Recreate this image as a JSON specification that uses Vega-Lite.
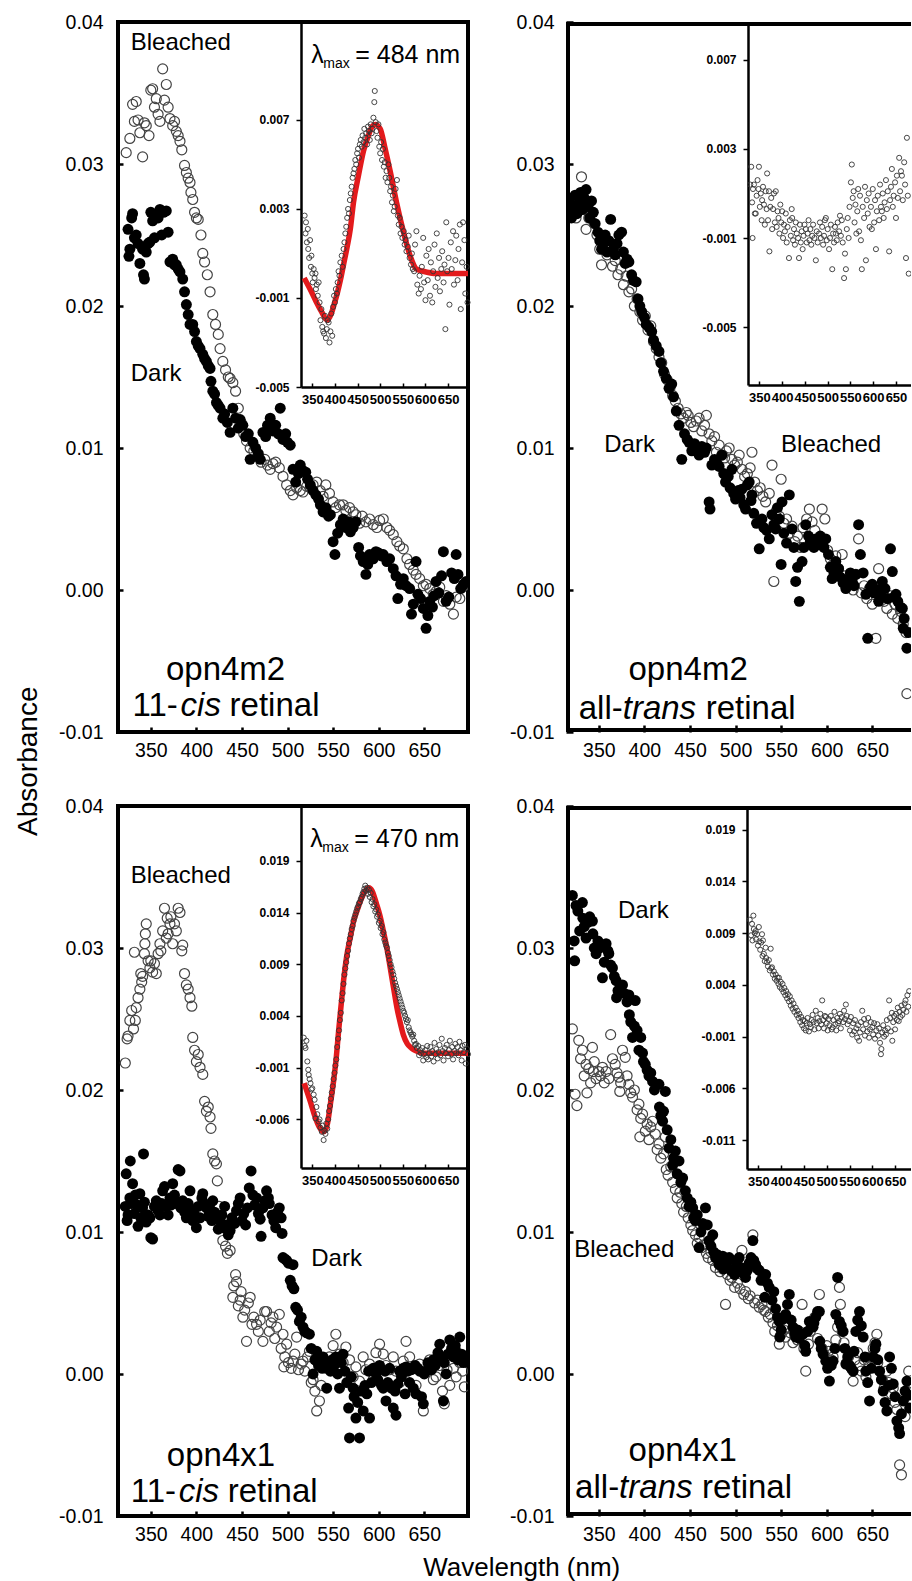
{
"$schema": "https://vega.github.io/schema/vega-lite/v6.json",
"padding": {"left": 14, "top": 10, "right": 0, "bottom": 0},
"config": {
  "font": "Liberation Sans",
  "view": {"stroke": null},
  "axis": {"grid": false, "domain": false, "labelColor": "black", "tickColor": "black", "labelFont": "Liberation Sans"},
  "text": {"font": "Liberation Sans", "color": "black", "baseline": "middle"},
  "title": {"font": "Liberation Sans", "color": "black", "fontWeight": "normal"}
},
"datasets": {
"tlb": [{"wl":323,"v":0.0308},{"wl":327,"v":0.0318},{"wl":330,"v":0.0342},{"wl":332,"v":0.033},{"wl":334,"v":0.0344},{"wl":336,"v":0.0331},{"wl":338,"v":0.0322},{"wl":341,"v":0.0305},{"wl":343,"v":0.0329},{"wl":345,"v":0.0327},{"wl":348,"v":0.032},{"wl":350,"v":0.0352},{"wl":352,"v":0.0353},{"wl":354,"v":0.034},{"wl":356,"v":0.0346},{"wl":358,"v":0.0335},{"wl":360,"v":0.033},{"wl":363,"v":0.0367},{"wl":365,"v":0.0345},{"wl":367,"v":0.0356},{"wl":369,"v":0.034},{"wl":371,"v":0.0332},{"wl":374,"v":0.0327},{"wl":376,"v":0.033},{"wl":378,"v":0.0323},{"wl":380,"v":0.032},{"wl":382,"v":0.0316},{"wl":384,"v":0.031},{"wl":387,"v":0.0299},{"wl":389,"v":0.0294},{"wl":391,"v":0.029},{"wl":393,"v":0.0287},{"wl":394,"v":0.028},{"wl":396,"v":0.0275},{"wl":398,"v":0.0266},{"wl":400,"v":0.0262},{"wl":402,"v":0.0261},{"wl":405,"v":0.025},{"wl":407,"v":0.0237},{"wl":409,"v":0.0231},{"wl":412,"v":0.0222},{"wl":415,"v":0.021},{"wl":418,"v":0.0194},{"wl":421,"v":0.0187},{"wl":424,"v":0.018},{"wl":426,"v":0.017},{"wl":429,"v":0.0161},{"wl":432,"v":0.0155},{"wl":435,"v":0.015},{"wl":437,"v":0.0149},{"wl":440,"v":0.0146},{"wl":443,"v":0.014},{"wl":446,"v":0.0128},{"wl":449,"v":0.0118},{"wl":452,"v":0.011},{"wl":455,"v":0.0105},{"wl":459,"v":0.01},{"wl":463,"v":0.0098},{"wl":467,"v":0.0094},{"wl":471,"v":0.009},{"wl":475,"v":0.0092},{"wl":478,"v":0.0088},{"wl":481,"v":0.0085},{"wl":484,"v":0.0089},{"wl":487,"v":0.009},{"wl":491,"v":0.0086},{"wl":495,"v":0.008},{"wl":499,"v":0.0074},{"wl":503,"v":0.007},{"wl":506,"v":0.0067},{"wl":510,"v":0.0072},{"wl":514,"v":0.007},{"wl":517,"v":0.0069},{"wl":521,"v":0.0073},{"wl":525,"v":0.0072},{"wl":528,"v":0.0074},{"wl":532,"v":0.0076},{"wl":536,"v":0.007},{"wl":539,"v":0.0066},{"wl":542,"v":0.0074},{"wl":546,"v":0.0068},{"wl":550,"v":0.0062},{"wl":553,"v":0.0058},{"wl":557,"v":0.006},{"wl":561,"v":0.006},{"wl":564,"v":0.0056},{"wl":568,"v":0.0058},{"wl":572,"v":0.0055},{"wl":575,"v":0.0053},{"wl":579,"v":0.0047},{"wl":582,"v":0.0052},{"wl":586,"v":0.0048},{"wl":590,"v":0.005},{"wl":594,"v":0.0046},{"wl":598,"v":0.0044},{"wl":601,"v":0.0049},{"wl":605,"v":0.005},{"wl":609,"v":0.0044},{"wl":612,"v":0.0042},{"wl":616,"v":0.0039},{"wl":620,"v":0.0034},{"wl":623,"v":0.0031},{"wl":627,"v":0.0029},{"wl":631,"v":0.0022},{"wl":634,"v":0.0018},{"wl":638,"v":0.0014},{"wl":641,"v":0.0011},{"wl":645,"v":0.0008},{"wl":649,"v":0.0003},{"wl":652,"v":0.0004},{"wl":656,"v":0.0001},{"wl":660,"v":-0.0003},{"wl":663,"v":-0.0001},{"wl":667,"v":0.0002},{"wl":671,"v":-0.0008},{"wl":674,"v":-0.0004},{"wl":678,"v":-0.001},{"wl":682,"v":-0.0017},{"wl":685,"v":-0.0005},{"wl":689,"v":-0.0006},{"wl":692,"v":0.0002},{"wl":696,"v":0.0004}],
"tld": [{"wl":325,"v":0.0254},{"wl":326,"v":0.0235},{"wl":327,"v":0.024},{"wl":329,"v":0.0262},{"wl":330,"v":0.0265},{"wl":332,"v":0.0248},{"wl":334,"v":0.025},{"wl":336,"v":0.0244},{"wl":338,"v":0.023},{"wl":341,"v":0.024},{"wl":342,"v":0.0222},{"wl":343,"v":0.0219},{"wl":345,"v":0.0238},{"wl":347,"v":0.0244},{"wl":349,"v":0.0245},{"wl":350,"v":0.0266},{"wl":352,"v":0.026},{"wl":354,"v":0.0248},{"wl":356,"v":0.0264},{"wl":358,"v":0.0262},{"wl":360,"v":0.0268},{"wl":362,"v":0.025},{"wl":364,"v":0.0266},{"wl":367,"v":0.0267},{"wl":369,"v":0.0252},{"wl":371,"v":0.0231},{"wl":374,"v":0.0233},{"wl":376,"v":0.0229},{"wl":378,"v":0.0229},{"wl":380,"v":0.0226},{"wl":382,"v":0.0224},{"wl":385,"v":0.0219},{"wl":387,"v":0.021},{"wl":389,"v":0.0201},{"wl":391,"v":0.0194},{"wl":393,"v":0.0187},{"wl":396,"v":0.0187},{"wl":398,"v":0.0182},{"wl":400,"v":0.0175},{"wl":402,"v":0.0172},{"wl":404,"v":0.017},{"wl":407,"v":0.0166},{"wl":409,"v":0.0163},{"wl":411,"v":0.0161},{"wl":413,"v":0.0158},{"wl":415,"v":0.0156},{"wl":416,"v":0.0147},{"wl":418,"v":0.014},{"wl":420,"v":0.0138},{"wl":422,"v":0.0132},{"wl":424,"v":0.013},{"wl":426,"v":0.0128},{"wl":429,"v":0.0121},{"wl":431,"v":0.0124},{"wl":434,"v":0.0118},{"wl":437,"v":0.0111},{"wl":440,"v":0.0128},{"wl":443,"v":0.0121},{"wl":446,"v":0.0114},{"wl":448,"v":0.012},{"wl":451,"v":0.0116},{"wl":454,"v":0.0108},{"wl":457,"v":0.011},{"wl":459,"v":0.0092},{"wl":462,"v":0.0104},{"wl":465,"v":0.01},{"wl":468,"v":0.0096},{"wl":470,"v":0.0092},{"wl":473,"v":0.0111},{"wl":476,"v":0.0108},{"wl":478,"v":0.0116},{"wl":481,"v":0.0121},{"wl":484,"v":0.0112},{"wl":487,"v":0.0116},{"wl":490,"v":0.011},{"wl":492,"v":0.0128},{"wl":495,"v":0.0106},{"wl":498,"v":0.011},{"wl":500,"v":0.0104},{"wl":503,"v":0.0102},{"wl":506,"v":0.0085},{"wl":509,"v":0.0076},{"wl":512,"v":0.0082},{"wl":514,"v":0.0088},{"wl":517,"v":0.0084},{"wl":520,"v":0.0083},{"wl":522,"v":0.0078},{"wl":525,"v":0.0074},{"wl":528,"v":0.007},{"wl":531,"v":0.0067},{"wl":534,"v":0.0064},{"wl":536,"v":0.006},{"wl":539,"v":0.0055},{"wl":542,"v":0.0058},{"wl":545,"v":0.0052},{"wl":547,"v":0.0053},{"wl":550,"v":0.0034},{"wl":552,"v":0.0025},{"wl":555,"v":0.004},{"wl":558,"v":0.0046},{"wl":561,"v":0.005},{"wl":564,"v":0.0044},{"wl":567,"v":0.0048},{"wl":569,"v":0.0041},{"wl":572,"v":0.0044},{"wl":575,"v":0.0048},{"wl":578,"v":0.003},{"wl":580,"v":0.0024},{"wl":583,"v":0.002},{"wl":586,"v":0.0011},{"wl":588,"v":0.0018},{"wl":590,"v":0.0025},{"wl":594,"v":0.0022},{"wl":597,"v":0.0027},{"wl":600,"v":0.0026},{"wl":603,"v":0.0024},{"wl":605,"v":0.0025},{"wl":609,"v":0.002},{"wl":612,"v":0.0022},{"wl":616,"v":0.0015},{"wl":619,"v":0.001},{"wl":621,"v":-0.0006},{"wl":624,"v":0.0004},{"wl":627,"v":0.0008},{"wl":630,"v":0.0003},{"wl":634,"v":0.0001},{"wl":636,"v":-0.0017},{"wl":638,"v":-0.001},{"wl":641,"v":0.002},{"wl":643,"v":-0.0003},{"wl":646,"v":-0.0006},{"wl":649,"v":-0.0013},{"wl":652,"v":-0.0027},{"wl":654,"v":-0.0018},{"wl":656,"v":-0.0008},{"wl":659,"v":-0.0012},{"wl":661,"v":-0.0004},{"wl":663,"v":0.0006},{"wl":666,"v":-0.0002},{"wl":669,"v":0.001},{"wl":671,"v":0.0027},{"wl":674,"v":-0.0008},{"wl":677,"v":-0.0005},{"wl":680,"v":0.0012},{"wl":683,"v":0.0008},{"wl":685,"v":0.0025},{"wl":687,"v":0.0011},{"wl":690,"v":0.0001},{"wl":693,"v":0.0004},{"wl":696,"v":0.0006}],
"tlf": [{"wl":332,"v":-0.0001},{"wl":345,"v":-0.0006},{"wl":357,"v":-0.0011},{"wl":370,"v":-0.0016},{"wl":383,"v":-0.002},{"wl":392,"v":-0.0017},{"wl":398,"v":-0.0013},{"wl":405,"v":-0.0008},{"wl":412,"v":-0.0002},{"wl":419,"v":0.0005},{"wl":427,"v":0.0013},{"wl":434,"v":0.0021},{"wl":441,"v":0.0033},{"wl":452,"v":0.0045},{"wl":463,"v":0.0056},{"wl":474,"v":0.0063},{"wl":482,"v":0.0067},{"wl":489,"v":0.0068},{"wl":500,"v":0.0066},{"wl":511,"v":0.0057},{"wl":522,"v":0.0047},{"wl":536,"v":0.0033},{"wl":551,"v":0.002},{"wl":566,"v":0.0009},{"wl":580,"v":0.0003},{"wl":595,"v":0.0002},{"wl":624,"v":0.0001},{"wl":694,"v":0.0001}],
"tli": [{"wl":333,"v":0.0027},{"wl":335,"v":0.0019},{"wl":336,"v":0.0024},{"wl":338,"v":0.0015},{"wl":340,"v":0.0021},{"wl":341,"v":0.0012},{"wl":343,"v":0.0008},{"wl":345,"v":0.0016},{"wl":347,"v":0.0004},{"wl":348,"v":0.0009},{"wl":350,"v":0.0001},{"wl":351,"v":-0.0003},{"wl":353,"v":0.0003},{"wl":355,"v":-0.0001},{"wl":357,"v":0.0001},{"wl":358,"v":-0.0006},{"wl":360,"v":-0.0004},{"wl":362,"v":-0.0009},{"wl":364,"v":-0.0003},{"wl":366,"v":-0.0012},{"wl":368,"v":-0.002},{"wl":370,"v":-0.0015},{"wl":372,"v":-0.0023},{"wl":374,"v":-0.0025},{"wl":376,"v":-0.0026},{"wl":378,"v":-0.0018},{"wl":380,"v":-0.0028},{"wl":382,"v":-0.0024},{"wl":384,"v":-0.002},{"wl":386,"v":-0.0021},{"wl":388,"v":-0.003},{"wl":390,"v":-0.0025},{"wl":392,"v":-0.0017},{"wl":394,"v":-0.0027},{"wl":396,"v":-0.0014},{"wl":398,"v":-0.0009},{"wl":400,"v":-0.0012},{"wl":402,"v":-0.0006},{"wl":404,"v":-0.0008},{"wl":406,"v":-0.0003},{"wl":408,"v":0.0002},{"wl":410,"v":0.0},{"wl":412,"v":0.0006},{"wl":415,"v":0.0009},{"wl":417,"v":0.0004},{"wl":419,"v":0.0012},{"wl":421,"v":0.0015},{"wl":423,"v":0.0019},{"wl":425,"v":0.0022},{"wl":427,"v":0.0026},{"wl":429,"v":0.003},{"wl":431,"v":0.0028},{"wl":433,"v":0.0034},{"wl":435,"v":0.0037},{"wl":437,"v":0.004},{"wl":439,"v":0.0044},{"wl":441,"v":0.0046},{"wl":443,"v":0.0048},{"wl":445,"v":0.0052},{"wl":447,"v":0.005},{"wl":449,"v":0.0055},{"wl":451,"v":0.0057},{"wl":453,"v":0.0053},{"wl":455,"v":0.0059},{"wl":457,"v":0.0061},{"wl":459,"v":0.0058},{"wl":461,"v":0.0063},{"wl":463,"v":0.006},{"wl":465,"v":0.0066},{"wl":467,"v":0.0062},{"wl":469,"v":0.0064},{"wl":471,"v":0.0059},{"wl":473,"v":0.0067},{"wl":475,"v":0.0065},{"wl":477,"v":0.0061},{"wl":479,"v":0.0068},{"wl":481,"v":0.0064},{"wl":483,"v":0.0066},{"wl":485,"v":0.0071},{"wl":487,"v":0.0078},{"wl":488,"v":0.0083},{"wl":490,"v":0.0069},{"wl":492,"v":0.0065},{"wl":494,"v":0.0062},{"wl":496,"v":0.0068},{"wl":498,"v":0.0058},{"wl":500,"v":0.0055},{"wl":502,"v":0.006},{"wl":504,"v":0.0052},{"wl":506,"v":0.0057},{"wl":508,"v":0.0049},{"wl":510,"v":0.0051},{"wl":512,"v":0.0044},{"wl":514,"v":0.0047},{"wl":516,"v":0.0042},{"wl":518,"v":0.005},{"wl":520,"v":0.0044},{"wl":522,"v":0.0038},{"wl":524,"v":0.004},{"wl":526,"v":0.0033},{"wl":528,"v":0.0036},{"wl":530,"v":0.0029},{"wl":532,"v":0.0031},{"wl":534,"v":0.0039},{"wl":537,"v":0.0043},{"wl":539,"v":0.0027},{"wl":541,"v":0.0023},{"wl":543,"v":0.0026},{"wl":545,"v":0.0019},{"wl":547,"v":0.0022},{"wl":549,"v":0.0017},{"wl":552,"v":0.002},{"wl":554,"v":0.0014},{"wl":556,"v":0.0016},{"wl":558,"v":0.0011},{"wl":561,"v":0.0013},{"wl":563,"v":0.0018},{"wl":565,"v":0.0008},{"wl":568,"v":0.0005},{"wl":570,"v":0.001},{"wl":572,"v":0.0003},{"wl":575,"v":0.0002},{"wl":577,"v":0.0014},{"wl":580,"v":0.002},{"wl":582,"v":-0.0004},{"wl":585,"v":-0.0008},{"wl":587,"v":0.0},{"wl":590,"v":-0.0006},{"wl":592,"v":0.0004},{"wl":595,"v":0.0017},{"wl":597,"v":-0.0003},{"wl":600,"v":-0.0011},{"wl":602,"v":0.0009},{"wl":605,"v":-0.0002},{"wl":607,"v":0.0012},{"wl":610,"v":-0.0009},{"wl":612,"v":0.0006},{"wl":615,"v":-0.0012},{"wl":617,"v":0.0002},{"wl":620,"v":0.0014},{"wl":622,"v":-0.0005},{"wl":625,"v":0.0019},{"wl":627,"v":-0.0001},{"wl":630,"v":0.0008},{"wl":632,"v":-0.0007},{"wl":635,"v":0.0003},{"wl":637,"v":0.0011},{"wl":640,"v":-0.0003},{"wl":642,"v":0.0005},{"wl":644,"v":-0.0024},{"wl":646,"v":0.0024},{"wl":648,"v":0.0002},{"wl":651,"v":0.0008},{"wl":653,"v":-0.0013},{"wl":656,"v":0.0015},{"wl":658,"v":0.0003},{"wl":661,"v":0.002},{"wl":663,"v":-0.0004},{"wl":666,"v":0.0007},{"wl":668,"v":0.0018},{"wl":671,"v":-0.0002},{"wl":673,"v":0.0012},{"wl":676,"v":0.0023},{"wl":678,"v":-0.0015},{"wl":681,"v":0.0006},{"wl":683,"v":0.0024},{"wl":686,"v":0.0016},{"wl":688,"v":-0.0008},{"wl":691,"v":0.0004},{"wl":693,"v":-0.0012}],
"trb": [{"wl":316,"v":0.0272},{"wl":319,"v":0.0265},{"wl":322,"v":0.027},{"wl":325,"v":0.0262},{"wl":328,"v":0.0275},{"wl":331,"v":0.0291},{"wl":334,"v":0.0268},{"wl":336,"v":0.0254},{"wl":339,"v":0.0262},{"wl":342,"v":0.0266},{"wl":345,"v":0.0258},{"wl":348,"v":0.025},{"wl":351,"v":0.024},{"wl":353,"v":0.0229},{"wl":356,"v":0.0245},{"wl":359,"v":0.0236},{"wl":362,"v":0.024},{"wl":365,"v":0.0228},{"wl":368,"v":0.0232},{"wl":371,"v":0.0222},{"wl":374,"v":0.0226},{"wl":377,"v":0.0215},{"wl":380,"v":0.0221},{"wl":383,"v":0.021},{"wl":386,"v":0.0212},{"wl":389,"v":0.02},{"wl":392,"v":0.0205},{"wl":395,"v":0.0196},{"wl":398,"v":0.019},{"wl":401,"v":0.0193},{"wl":404,"v":0.0183},{"wl":407,"v":0.0186},{"wl":410,"v":0.0175},{"wl":413,"v":0.017},{"wl":416,"v":0.0164},{"wl":419,"v":0.016},{"wl":422,"v":0.0152},{"wl":425,"v":0.0148},{"wl":428,"v":0.0142},{"wl":431,"v":0.0137},{"wl":434,"v":0.0133},{"wl":437,"v":0.0128},{"wl":440,"v":0.0124},{"wl":443,"v":0.0121},{"wl":446,"v":0.0125},{"wl":448,"v":0.0123},{"wl":451,"v":0.0118},{"wl":454,"v":0.0115},{"wl":457,"v":0.0119},{"wl":460,"v":0.0121},{"wl":463,"v":0.0112},{"wl":466,"v":0.0116},{"wl":468,"v":0.0123},{"wl":471,"v":0.011},{"wl":474,"v":0.0105},{"wl":477,"v":0.0108},{"wl":479,"v":0.0097},{"wl":482,"v":0.0102},{"wl":485,"v":0.0095},{"wl":488,"v":0.0093},{"wl":490,"v":0.0098},{"wl":493,"v":0.01},{"wl":496,"v":0.0092},{"wl":499,"v":0.0088},{"wl":502,"v":0.009},{"wl":504,"v":0.0095},{"wl":507,"v":0.0085},{"wl":510,"v":0.008},{"wl":513,"v":0.0082},{"wl":516,"v":0.0086},{"wl":518,"v":0.0097},{"wl":521,"v":0.0076},{"wl":524,"v":0.007},{"wl":527,"v":0.0072},{"wl":530,"v":0.0066},{"wl":533,"v":0.0062},{"wl":537,"v":0.0068},{"wl":540,"v":0.0088},{"wl":542,"v":0.0006},{"wl":545,"v":0.0056},{"wl":548,"v":0.0052},{"wl":550,"v":0.0078},{"wl":553,"v":0.0047},{"wl":556,"v":0.005},{"wl":559,"v":0.004},{"wl":562,"v":0.0045},{"wl":565,"v":0.0034},{"wl":568,"v":0.0038},{"wl":571,"v":0.003},{"wl":574,"v":0.0044},{"wl":578,"v":0.005},{"wl":581,"v":0.0057},{"wl":584,"v":0.0048},{"wl":587,"v":0.0042},{"wl":590,"v":0.0033},{"wl":593,"v":0.0036},{"wl":595,"v":0.0057},{"wl":598,"v":0.005},{"wl":601,"v":0.0028},{"wl":604,"v":0.0022},{"wl":607,"v":0.0018},{"wl":610,"v":0.0024},{"wl":613,"v":0.0015},{"wl":617,"v":0.0025},{"wl":620,"v":0.001},{"wl":623,"v":0.0004},{"wl":626,"v":0.0008},{"wl":629,"v":0.0},{"wl":632,"v":0.0011},{"wl":635,"v":0.0036},{"wl":638,"v":-0.0002},{"wl":641,"v":0.0003},{"wl":644,"v":-0.0006},{"wl":647,"v":0.0001},{"wl":650,"v":-0.001},{"wl":654,"v":-0.0034},{"wl":657,"v":0.0015},{"wl":660,"v":-0.0005},{"wl":663,"v":-0.0008},{"wl":666,"v":-0.0013},{"wl":669,"v":-0.0004},{"wl":672,"v":-0.0017},{"wl":675,"v":-0.001},{"wl":678,"v":-0.002},{"wl":681,"v":-0.0015},{"wl":684,"v":-0.0024},{"wl":687,"v":-0.003},{"wl":688,"v":-0.0073}],
"trd": [{"wl":316,"v":0.0268},{"wl":318,"v":0.0275},{"wl":320,"v":0.0262},{"wl":322,"v":0.027},{"wl":324,"v":0.0278},{"wl":326,"v":0.0265},{"wl":328,"v":0.0272},{"wl":330,"v":0.028},{"wl":332,"v":0.0268},{"wl":334,"v":0.0276},{"wl":336,"v":0.0282},{"wl":338,"v":0.027},{"wl":340,"v":0.0262},{"wl":342,"v":0.0274},{"wl":344,"v":0.0266},{"wl":346,"v":0.0258},{"wl":349,"v":0.0252},{"wl":351,"v":0.0246},{"wl":353,"v":0.024},{"wl":355,"v":0.0244},{"wl":357,"v":0.025},{"wl":359,"v":0.0238},{"wl":361,"v":0.0246},{"wl":363,"v":0.0261},{"wl":366,"v":0.024},{"wl":368,"v":0.0236},{"wl":370,"v":0.0244},{"wl":372,"v":0.025},{"wl":375,"v":0.0252},{"wl":377,"v":0.0238},{"wl":379,"v":0.023},{"wl":381,"v":0.0233},{"wl":383,"v":0.0231},{"wl":386,"v":0.0222},{"wl":388,"v":0.0218},{"wl":391,"v":0.0217},{"wl":393,"v":0.0205},{"wl":395,"v":0.02},{"wl":397,"v":0.0196},{"wl":400,"v":0.0192},{"wl":402,"v":0.0187},{"wl":405,"v":0.0185},{"wl":408,"v":0.0182},{"wl":410,"v":0.0176},{"wl":413,"v":0.0172},{"wl":416,"v":0.0168},{"wl":418,"v":0.016},{"wl":421,"v":0.0154},{"wl":424,"v":0.0149},{"wl":427,"v":0.0142},{"wl":430,"v":0.0145},{"wl":432,"v":0.0136},{"wl":435,"v":0.0126},{"wl":438,"v":0.0116},{"wl":441,"v":0.0092},{"wl":444,"v":0.011},{"wl":447,"v":0.0106},{"wl":449,"v":0.0104},{"wl":452,"v":0.0098},{"wl":455,"v":0.0103},{"wl":457,"v":0.01},{"wl":460,"v":0.0095},{"wl":463,"v":0.0101},{"wl":466,"v":0.0097},{"wl":468,"v":0.01},{"wl":471,"v":0.0062},{"wl":472,"v":0.0057},{"wl":474,"v":0.0088},{"wl":477,"v":0.0092},{"wl":479,"v":0.009},{"wl":482,"v":0.0087},{"wl":485,"v":0.0095},{"wl":487,"v":0.0082},{"wl":489,"v":0.0076},{"wl":492,"v":0.008},{"wl":494,"v":0.0072},{"wl":496,"v":0.0085},{"wl":498,"v":0.0068},{"wl":500,"v":0.0064},{"wl":503,"v":0.007},{"wl":505,"v":0.0065},{"wl":507,"v":0.0071},{"wl":509,"v":0.006},{"wl":511,"v":0.0057},{"wl":513,"v":0.0074},{"wl":515,"v":0.0076},{"wl":517,"v":0.0063},{"wl":518,"v":0.0067},{"wl":520,"v":0.0054},{"wl":523,"v":0.0047},{"wl":526,"v":0.0029},{"wl":529,"v":0.005},{"wl":531,"v":0.0044},{"wl":534,"v":0.0042},{"wl":537,"v":0.0036},{"wl":540,"v":0.0053},{"wl":542,"v":0.0046},{"wl":544,"v":0.0043},{"wl":546,"v":0.0058},{"wl":548,"v":0.005},{"wl":550,"v":0.0018},{"wl":551,"v":0.0062},{"wl":553,"v":0.004},{"wl":556,"v":0.0033},{"wl":559,"v":0.0067},{"wl":562,"v":0.0043},{"wl":564,"v":0.003},{"wl":566,"v":0.0006},{"wl":568,"v":0.0016},{"wl":570,"v":-0.0008},{"wl":573,"v":0.002},{"wl":575,"v":0.003},{"wl":577,"v":0.0046},{"wl":580,"v":0.0038},{"wl":582,"v":0.0034},{"wl":584,"v":0.0034},{"wl":586,"v":0.003},{"wl":588,"v":0.0036},{"wl":591,"v":0.0032},{"wl":593,"v":0.0038},{"wl":595,"v":0.0033},{"wl":597,"v":0.003},{"wl":599,"v":0.0036},{"wl":602,"v":0.0025},{"wl":604,"v":0.0016},{"wl":606,"v":0.0008},{"wl":608,"v":0.0012},{"wl":610,"v":0.002},{"wl":613,"v":0.0015},{"wl":615,"v":0.0009},{"wl":618,"v":0.0005},{"wl":621,"v":0.0001},{"wl":624,"v":0.0008},{"wl":626,"v":0.0012},{"wl":628,"v":0.0006},{"wl":630,"v":0.0003},{"wl":632,"v":0.0011},{"wl":635,"v":0.0046},{"wl":637,"v":0.0025},{"wl":640,"v":0.0012},{"wl":643,"v":-0.0003},{"wl":645,"v":-0.0034},{"wl":648,"v":0.0002},{"wl":650,"v":0.0004},{"wl":652,"v":-0.0002},{"wl":655,"v":0.0},{"wl":657,"v":-0.0008},{"wl":659,"v":-0.0004},{"wl":661,"v":0.0006},{"wl":664,"v":0.0001},{"wl":667,"v":-0.0006},{"wl":670,"v":0.0029},{"wl":672,"v":0.0013},{"wl":674,"v":-0.0005},{"wl":676,"v":-0.0003},{"wl":678,"v":-0.0008},{"wl":681,"v":-0.0012},{"wl":683,"v":-0.0013},{"wl":685,"v":-0.002},{"wl":684,"v":-0.0027},{"wl":688,"v":-0.0041},{"wl":690,"v":-0.003}],
"tri": [{"wl":330,"v":0.0014},{"wl":332,"v":0.0022},{"wl":334,"v":0.0006},{"wl":335,"v":-0.001},{"wl":336,"v":0.0012},{"wl":338,"v":0.0014},{"wl":340,"v":0.0001},{"wl":342,"v":0.0001},{"wl":344,"v":0.0009},{"wl":346,"v":0.0016},{"wl":348,"v":0.0012},{"wl":349,"v":0.0022},{"wl":351,"v":0.0004},{"wl":353,"v":0.001},{"wl":355,"v":-0.0002},{"wl":356,"v":0.0007},{"wl":358,"v":0.0013},{"wl":360,"v":0.0005},{"wl":362,"v":-0.0004},{"wl":364,"v":0.0011},{"wl":366,"v":0.0003},{"wl":367,"v":0.0019},{"wl":369,"v":-0.0002},{"wl":371,"v":0.0011},{"wl":372,"v":-0.0016},{"wl":374,"v":0.0004},{"wl":376,"v":0.0008},{"wl":378,"v":-0.0006},{"wl":380,"v":0.0003},{"wl":382,"v":0.001},{"wl":384,"v":-0.0003},{"wl":386,"v":0.0011},{"wl":388,"v":-0.0005},{"wl":390,"v":0.0002},{"wl":392,"v":-0.0001},{"wl":394,"v":-0.0008},{"wl":396,"v":0.0005},{"wl":398,"v":-0.0003},{"wl":400,"v":0.0002},{"wl":402,"v":-0.001},{"wl":404,"v":-0.0004},{"wl":406,"v":-0.0007},{"wl":408,"v":0.0001},{"wl":410,"v":-0.0012},{"wl":412,"v":-0.0005},{"wl":415,"v":-0.0019},{"wl":417,"v":-0.0002},{"wl":419,"v":-0.0009},{"wl":421,"v":0.0003},{"wl":422,"v":-0.0001},{"wl":424,"v":-0.0011},{"wl":426,"v":-0.0006},{"wl":428,"v":-0.0013},{"wl":430,"v":-0.0003},{"wl":432,"v":-0.0008},{"wl":435,"v":-0.001},{"wl":437,"v":-0.0019},{"wl":439,"v":-0.0004},{"wl":441,"v":-0.0012},{"wl":443,"v":-0.0007},{"wl":445,"v":-0.0015},{"wl":447,"v":-0.0009},{"wl":449,"v":-0.0004},{"wl":452,"v":-0.0006},{"wl":454,"v":-0.0012},{"wl":456,"v":-0.0008},{"wl":458,"v":-0.0002},{"wl":460,"v":-0.0011},{"wl":462,"v":-0.0006},{"wl":464,"v":-0.0013},{"wl":466,"v":-0.0009},{"wl":468,"v":-0.0004},{"wl":471,"v":-0.001},{"wl":474,"v":-0.002},{"wl":476,"v":-0.0007},{"wl":478,"v":-0.0012},{"wl":481,"v":-0.0008},{"wl":483,"v":-0.0003},{"wl":485,"v":-0.001},{"wl":488,"v":-0.0005},{"wl":490,"v":-0.0013},{"wl":492,"v":-0.0009},{"wl":494,"v":-0.0002},{"wl":496,"v":-0.0001},{"wl":498,"v":-0.0011},{"wl":500,"v":-0.0006},{"wl":503,"v":-0.0015},{"wl":505,"v":-0.001},{"wl":507,"v":-0.0004},{"wl":510,"v":-0.0024},{"wl":512,"v":-0.0008},{"wl":514,"v":-0.0012},{"wl":516,"v":-0.0005},{"wl":518,"v":-0.0008},{"wl":520,"v":-0.0011},{"wl":522,"v":-0.0003},{"wl":525,"v":-0.0007},{"wl":527,"v":0.0},{"wl":529,"v":-0.0009},{"wl":531,"v":-0.0002},{"wl":533,"v":-0.0012},{"wl":536,"v":-0.0028},{"wl":538,"v":-0.0017},{"wl":540,"v":-0.0024},{"wl":542,"v":-0.0006},{"wl":544,"v":-0.0001},{"wl":546,"v":-0.001},{"wl":548,"v":0.0004},{"wl":551,"v":0.0015},{"wl":553,"v":0.0023},{"wl":555,"v":0.0008},{"wl":557,"v":0.0011},{"wl":559,"v":-0.0003},{"wl":561,"v":0.0005},{"wl":563,"v":-0.0008},{"wl":565,"v":0.0002},{"wl":567,"v":0.0012},{"wl":569,"v":-0.0007},{"wl":571,"v":0.0009},{"wl":573,"v":-0.0011},{"wl":575,"v":-0.0024},{"wl":577,"v":0.0004},{"wl":580,"v":-0.0001},{"wl":582,"v":0.0013},{"wl":584,"v":-0.002},{"wl":586,"v":0.0007},{"wl":588,"v":0.0001},{"wl":590,"v":0.001},{"wl":592,"v":-0.0005},{"wl":595,"v":0.0004},{"wl":597,"v":-0.0006},{"wl":599,"v":0.0012},{"wl":602,"v":-0.0003},{"wl":604,"v":0.0007},{"wl":606,"v":-0.0015},{"wl":608,"v":0.0002},{"wl":610,"v":0.0009},{"wl":613,"v":-0.0002},{"wl":615,"v":0.0014},{"wl":617,"v":0.0004},{"wl":619,"v":0.0002},{"wl":621,"v":0.001},{"wl":623,"v":-0.0001},{"wl":625,"v":0.0006},{"wl":628,"v":0.0016},{"wl":630,"v":0.0003},{"wl":632,"v":0.0011},{"wl":635,"v":-0.0016},{"wl":637,"v":0.0007},{"wl":639,"v":0.0013},{"wl":641,"v":0.0021},{"wl":643,"v":0.0004},{"wl":645,"v":0.0009},{"wl":648,"v":0.0015},{"wl":650,"v":-0.0001},{"wl":652,"v":0.0018},{"wl":654,"v":0.0008},{"wl":657,"v":0.0026},{"wl":659,"v":0.0011},{"wl":661,"v":0.002},{"wl":663,"v":0.0018},{"wl":665,"v":0.0007},{"wl":668,"v":0.0024},{"wl":670,"v":0.0014},{"wl":672,"v":-0.0019},{"wl":674,"v":0.0035},{"wl":676,"v":0.0009},{"wl":678,"v":-0.0026}],
"blb": [{"wl":322,"v":0.0219},{"wl":324,"v":0.0236},{"wl":325,"v":0.0238},{"wl":327,"v":0.0249},{"wl":329,"v":0.0256},{"wl":331,"v":0.0243},{"wl":332,"v":0.0297},{"wl":333,"v":0.0249},{"wl":334,"v":0.0258},{"wl":336,"v":0.0265},{"wl":338,"v":0.0271},{"wl":339,"v":0.0282},{"wl":340,"v":0.0276},{"wl":341,"v":0.028},{"wl":343,"v":0.0296},{"wl":343.5,"v":0.0303},{"wl":344,"v":0.031},{"wl":345,"v":0.0317},{"wl":347,"v":0.0291},{"wl":349,"v":0.0286},{"wl":350,"v":0.0291},{"wl":352,"v":0.0283},{"wl":354,"v":0.0289},{"wl":356,"v":0.0282},{"wl":358,"v":0.0296},{"wl":360,"v":0.0303},{"wl":361,"v":0.0298},{"wl":363,"v":0.0312},{"wl":365,"v":0.0328},{"wl":367,"v":0.0307},{"wl":368,"v":0.0321},{"wl":369,"v":0.031},{"wl":371,"v":0.0317},{"wl":372,"v":0.0322},{"wl":374,"v":0.0303},{"wl":376,"v":0.0317},{"wl":378,"v":0.0312},{"wl":380,"v":0.0328},{"wl":382,"v":0.0325},{"wl":384,"v":0.0298},{"wl":385,"v":0.0302},{"wl":387,"v":0.0282},{"wl":389,"v":0.0274},{"wl":391,"v":0.0271},{"wl":393,"v":0.0265},{"wl":395,"v":0.0259},{"wl":396,"v":0.0237},{"wl":398,"v":0.0228},{"wl":400,"v":0.022},{"wl":402,"v":0.0225},{"wl":404,"v":0.0216},{"wl":407,"v":0.0211},{"wl":409,"v":0.0192},{"wl":411,"v":0.0185},{"wl":413,"v":0.0188},{"wl":415,"v":0.0181},{"wl":416,"v":0.0173},{"wl":418,"v":0.0155},{"wl":420,"v":0.015},{"wl":422,"v":0.0148},{"wl":423,"v":0.0136},{"wl":425,"v":0.0118},{"wl":427,"v":0.0104},{"wl":429,"v":0.0094},{"wl":432,"v":0.009},{"wl":434,"v":0.0085},{"wl":437,"v":0.0087},{"wl":440,"v":0.0054},{"wl":441,"v":0.0062},{"wl":443,"v":0.007},{"wl":444,"v":0.0065},{"wl":446,"v":0.0048},{"wl":448,"v":0.0052},{"wl":449,"v":0.0058},{"wl":451,"v":0.004},{"wl":453,"v":0.0045},{"wl":455,"v":0.0023},{"wl":457,"v":0.005},{"wl":459,"v":0.0054},{"wl":461,"v":0.0035},{"wl":463,"v":0.004},{"wl":466,"v":0.0035},{"wl":468,"v":0.003},{"wl":470,"v":0.0038},{"wl":473,"v":0.0023},{"wl":475,"v":0.0044},{"wl":477,"v":0.0044},{"wl":480,"v":0.003},{"wl":482,"v":0.0036},{"wl":484,"v":0.004},{"wl":486,"v":0.0025},{"wl":488,"v":0.0033},{"wl":491,"v":0.0042},{"wl":493,"v":0.0018},{"wl":495,"v":0.0028},{"wl":496,"v":0.0005},{"wl":497,"v":0.0012},{"wl":499,"v":0.0021},{"wl":501,"v":0.0008},{"wl":504,"v":0.0004},{"wl":506,"v":0.0009},{"wl":508,"v":0.0014},{"wl":510,"v":0.0026},{"wl":512,"v":0.0003},{"wl":515,"v":0.0007},{"wl":517,"v":0.0009},{"wl":519,"v":0.0002},{"wl":522,"v":0.0012},{"wl":524,"v":0.0016},{"wl":526,"v":-0.0006},{"wl":528,"v":-0.0004},{"wl":530,"v":-0.0012},{"wl":532,"v":-0.0026},{"wl":535,"v":-0.0019},{"wl":537,"v":-0.0008},{"wl":540,"v":0.0006},{"wl":543,"v":0.0004},{"wl":546,"v":0.0012},{"wl":550,"v":0.002},{"wl":553,"v":0.0028},{"wl":557,"v":0.0014},{"wl":561,"v":0.0008},{"wl":564,"v":0.0019},{"wl":568,"v":0.001},{"wl":572,"v":-0.0002},{"wl":575,"v":0.0005},{"wl":579,"v":-0.0005},{"wl":583,"v":0.0012},{"wl":586,"v":0.0003},{"wl":590,"v":0.0007},{"wl":594,"v":-0.0004},{"wl":597,"v":0.0015},{"wl":601,"v":0.0021},{"wl":605,"v":0.0014},{"wl":608,"v":0.0006},{"wl":612,"v":0.0003},{"wl":616,"v":0.0012},{"wl":619,"v":0.0002},{"wl":623,"v":-0.0006},{"wl":627,"v":0.0009},{"wl":630,"v":0.0023},{"wl":634,"v":0.0012},{"wl":638,"v":0.0004},{"wl":641,"v":-0.0008},{"wl":645,"v":0.0007},{"wl":649,"v":-0.0026},{"wl":652,"v":0.0002},{"wl":656,"v":0.001},{"wl":660,"v":-0.0004},{"wl":663,"v":-0.0002},{"wl":667,"v":0.0006},{"wl":670,"v":-0.0012},{"wl":672,"v":-0.0021},{"wl":675,"v":0.0003},{"wl":678,"v":-0.0008},{"wl":682,"v":0.0004},{"wl":685,"v":-0.0002},{"wl":689,"v":0.0008},{"wl":692,"v":0.0002},{"wl":694,"v":-0.0009}],
"bld": [{"wl":322,"v":0.0118},{"wl":323,"v":0.0141},{"wl":324,"v":0.0108},{"wl":325,"v":0.0112},{"wl":327,"v":0.0124},{"wl":327.5,"v":0.015},{"wl":329,"v":0.012},{"wl":330,"v":0.0134},{"wl":332,"v":0.0113},{"wl":333,"v":0.0126},{"wl":335,"v":0.0119},{"wl":336,"v":0.0104},{"wl":338,"v":0.0127},{"wl":339,"v":0.011},{"wl":341,"v":0.0117},{"wl":342,"v":0.0155},{"wl":343,"v":0.0121},{"wl":345,"v":0.0107},{"wl":347,"v":0.0112},{"wl":349,"v":0.011},{"wl":350,"v":0.0096},{"wl":352,"v":0.0095},{"wl":354,"v":0.0118},{"wl":356,"v":0.0122},{"wl":358,"v":0.0115},{"wl":360,"v":0.0112},{"wl":362,"v":0.012},{"wl":363,"v":0.0129},{"wl":365,"v":0.0132},{"wl":367,"v":0.0118},{"wl":369,"v":0.0112},{"wl":371,"v":0.0124},{"wl":372,"v":0.0119},{"wl":374,"v":0.0134},{"wl":376,"v":0.0126},{"wl":378,"v":0.012},{"wl":380,"v":0.0144},{"wl":382,"v":0.0143},{"wl":383,"v":0.0117},{"wl":385,"v":0.0122},{"wl":387,"v":0.0114},{"wl":389,"v":0.011},{"wl":391,"v":0.012},{"wl":393,"v":0.0129},{"wl":394,"v":0.0116},{"wl":396,"v":0.0108},{"wl":398,"v":0.0112},{"wl":400,"v":0.0103},{"wl":402,"v":0.0118},{"wl":404,"v":0.011},{"wl":406,"v":0.0124},{"wl":407,"v":0.0127},{"wl":409,"v":0.012},{"wl":411,"v":0.0117},{"wl":413,"v":0.0111},{"wl":415,"v":0.0116},{"wl":417,"v":0.0108},{"wl":418,"v":0.0122},{"wl":420,"v":0.0114},{"wl":422,"v":0.011},{"wl":424,"v":0.0102},{"wl":426,"v":0.0108},{"wl":428,"v":0.0112},{"wl":429,"v":0.0103},{"wl":431,"v":0.0118},{"wl":433,"v":0.0105},{"wl":435,"v":0.0098},{"wl":437,"v":0.0101},{"wl":439,"v":0.011},{"wl":442,"v":0.0106},{"wl":444,"v":0.0115},{"wl":446,"v":0.012},{"wl":448,"v":0.0124},{"wl":450,"v":0.0108},{"wl":452,"v":0.0113},{"wl":454,"v":0.0105},{"wl":456,"v":0.0117},{"wl":458,"v":0.0131},{"wl":460,"v":0.0143},{"wl":462,"v":0.0126},{"wl":464,"v":0.0119},{"wl":466,"v":0.0124},{"wl":468,"v":0.0113},{"wl":470,"v":0.0109},{"wl":471,"v":0.0097},{"wl":473,"v":0.0117},{"wl":475,"v":0.0122},{"wl":477,"v":0.0129},{"wl":479,"v":0.0124},{"wl":480,"v":0.012},{"wl":483,"v":0.0112},{"wl":485,"v":0.0108},{"wl":487,"v":0.0103},{"wl":489,"v":0.0114},{"wl":491,"v":0.0117},{"wl":493,"v":0.011},{"wl":494,"v":0.0099},{"wl":495,"v":0.0082},{"wl":497,"v":0.0081},{"wl":499,"v":0.008},{"wl":501,"v":0.0078},{"wl":503,"v":0.0066},{"wl":505,"v":0.0062},{"wl":506,"v":0.0077},{"wl":507,"v":0.006},{"wl":509,"v":0.0047},{"wl":511,"v":0.0045},{"wl":513,"v":0.0037},{"wl":515,"v":0.004},{"wl":517,"v":0.0033},{"wl":519,"v":0.003},{"wl":521,"v":0.0029},{"wl":524,"v":0.0028},{"wl":526,"v":0.0018},{"wl":528,"v":0.0},{"wl":530,"v":0.001},{"wl":532,"v":0.0016},{"wl":534,"v":0.0006},{"wl":536,"v":0.0012},{"wl":538,"v":0.0004},{"wl":539,"v":0.0012},{"wl":541,"v":0.0008},{"wl":543,"v":-0.001},{"wl":545,"v":0.0007},{"wl":547,"v":0.0002},{"wl":549,"v":0.001},{"wl":551,"v":0.0006},{"wl":553,"v":0.0012},{"wl":555,"v":0.0},{"wl":557,"v":-0.001},{"wl":559,"v":0.0008},{"wl":561,"v":0.0014},{"wl":563,"v":0.0002},{"wl":565,"v":-0.0006},{"wl":567,"v":-0.0024},{"wl":568,"v":-0.0045},{"wl":570,"v":-0.0002},{"wl":572,"v":-0.001},{"wl":573,"v":-0.0016},{"wl":575,"v":-0.0031},{"wl":577,"v":-0.002},{"wl":579,"v":-0.0045},{"wl":581,"v":-0.0012},{"wl":583,"v":-0.0026},{"wl":585,"v":-0.0008},{"wl":587,"v":-0.0014},{"wl":589,"v":0.0002},{"wl":590,"v":-0.0031},{"wl":592,"v":-0.0006},{"wl":594,"v":0.0004},{"wl":597,"v":0.0},{"wl":599,"v":-0.0004},{"wl":601,"v":0.0006},{"wl":603,"v":-0.0008},{"wl":605,"v":-0.001},{"wl":607,"v":0.0002},{"wl":608,"v":-0.0019},{"wl":610,"v":-0.0006},{"wl":612,"v":0.0004},{"wl":614,"v":-0.001},{"wl":616,"v":-0.0024},{"wl":618,"v":-0.0012},{"wl":619,"v":-0.0029},{"wl":621,"v":-0.0007},{"wl":623,"v":0.0002},{"wl":625,"v":-0.0002},{"wl":627,"v":0.0004},{"wl":629,"v":-0.0014},{"wl":630,"v":0.0005},{"wl":632,"v":0.0002},{"wl":634,"v":-0.0006},{"wl":636,"v":0.0003},{"wl":638,"v":-0.001},{"wl":640,"v":0.0006},{"wl":641,"v":-0.0014},{"wl":643,"v":0.0004},{"wl":645,"v":0.0002},{"wl":647,"v":-0.0016},{"wl":649,"v":-0.0021},{"wl":650,"v":0.0},{"wl":652,"v":0.0002},{"wl":654,"v":0.0008},{"wl":656,"v":0.0005},{"wl":658,"v":0.0003},{"wl":660,"v":0.001},{"wl":662,"v":0.0006},{"wl":663,"v":0.0009},{"wl":665,"v":0.0015},{"wl":667,"v":0.0021},{"wl":669,"v":0.0012},{"wl":671,"v":-0.0019},{"wl":672,"v":0.0008},{"wl":674,"v":0.0},{"wl":676,"v":0.0014},{"wl":678,"v":0.0024},{"wl":680,"v":0.0018},{"wl":682,"v":0.0012},{"wl":684,"v":0.002},{"wl":685,"v":0.0016},{"wl":687,"v":0.001},{"wl":689,"v":0.0026},{"wl":691,"v":0.0014},{"wl":693,"v":0.0008},{"wl":696,"v":0.0012}],
"blf": [{"wl":332,"v":-0.0025},{"wl":345,"v":-0.0042},{"wl":355,"v":-0.0056},{"wl":365,"v":-0.0067},{"wl":375,"v":-0.0072},{"wl":383,"v":-0.0065},{"wl":390,"v":-0.0045},{"wl":397,"v":-0.0023},{"wl":403,"v":0.0},{"wl":408,"v":0.0025},{"wl":414,"v":0.0052},{"wl":419,"v":0.0074},{"wl":426,"v":0.0098},{"wl":434,"v":0.0116},{"wl":441,"v":0.0131},{"wl":449,"v":0.0142},{"wl":458,"v":0.0153},{"wl":467,"v":0.0161},{"wl":475,"v":0.0164},{"wl":482,"v":0.0161},{"wl":492,"v":0.0148},{"wl":500,"v":0.0136},{"wl":507,"v":0.0122},{"wl":515,"v":0.0105},{"wl":522,"v":0.0087},{"wl":530,"v":0.0066},{"wl":537,"v":0.0048},{"wl":544,"v":0.0034},{"wl":551,"v":0.0022},{"wl":560,"v":0.0013},{"wl":569,"v":0.0009},{"wl":580,"v":0.0006},{"wl":595,"v":0.0004},{"wl":620,"v":0.0004},{"wl":650,"v":0.0004},{"wl":694,"v":0.0004}],
"bli": [{"wl":331,"v":0.0019},{"wl":333,"v":0.0011},{"wl":335,"v":0.0009},{"wl":337,"v":0.0016},{"wl":339,"v":-0.0004},{"wl":341,"v":-0.0012},{"wl":342,"v":-0.0017},{"wl":344,"v":-0.0021},{"wl":346,"v":-0.0025},{"wl":348,"v":-0.0031},{"wl":350,"v":-0.003},{"wl":353,"v":-0.0036},{"wl":355,"v":-0.0041},{"wl":357,"v":-0.0059},{"wl":359,"v":-0.0048},{"wl":361,"v":-0.0055},{"wl":364,"v":-0.0062},{"wl":366,"v":-0.006},{"wl":368,"v":-0.0068},{"wl":371,"v":-0.0072},{"wl":373,"v":-0.0066},{"wl":375,"v":-0.008},{"wl":377,"v":-0.0071},{"wl":379,"v":-0.0074},{"wl":381,"v":-0.0064},{"wl":383,"v":-0.0069},{"wl":385,"v":-0.006},{"wl":387,"v":-0.0052},{"wl":389,"v":-0.0047},{"wl":391,"v":-0.004},{"wl":393,"v":-0.0034},{"wl":395,"v":-0.0028},{"wl":397,"v":-0.0021},{"wl":399,"v":-0.0015},{"wl":401,"v":-0.0008},{"wl":403,"v":-0.0002},{"wl":405,"v":0.001},{"wl":407,"v":0.0018},{"wl":409,"v":0.0026},{"wl":411,"v":0.0036},{"wl":413,"v":0.0043},{"wl":415,"v":0.0055},{"wl":417,"v":0.0062},{"wl":419,"v":0.0071},{"wl":421,"v":0.008},{"wl":423,"v":0.0086},{"wl":425,"v":0.0092},{"wl":427,"v":0.0098},{"wl":429,"v":0.0103},{"wl":431,"v":0.011},{"wl":433,"v":0.0115},{"wl":435,"v":0.0119},{"wl":437,"v":0.0124},{"wl":439,"v":0.0127},{"wl":441,"v":0.0132},{"wl":443,"v":0.0135},{"wl":445,"v":0.0138},{"wl":447,"v":0.0141},{"wl":449,"v":0.0144},{"wl":451,"v":0.0146},{"wl":453,"v":0.0149},{"wl":455,"v":0.015},{"wl":457,"v":0.0153},{"wl":459,"v":0.0155},{"wl":461,"v":0.0158},{"wl":463,"v":0.016},{"wl":465,"v":0.0163},{"wl":467,"v":0.0166},{"wl":469,"v":0.0161},{"wl":471,"v":0.0164},{"wl":473,"v":0.0158},{"wl":475,"v":0.0162},{"wl":477,"v":0.0155},{"wl":479,"v":0.0159},{"wl":481,"v":0.015},{"wl":483,"v":0.0153},{"wl":485,"v":0.0146},{"wl":487,"v":0.0148},{"wl":489,"v":0.0141},{"wl":491,"v":0.0143},{"wl":493,"v":0.0136},{"wl":495,"v":0.0138},{"wl":497,"v":0.013},{"wl":499,"v":0.0132},{"wl":501,"v":0.0125},{"wl":503,"v":0.0127},{"wl":505,"v":0.0119},{"wl":507,"v":0.0121},{"wl":509,"v":0.0114},{"wl":511,"v":0.0111},{"wl":513,"v":0.0108},{"wl":515,"v":0.0106},{"wl":517,"v":0.0101},{"wl":519,"v":0.0098},{"wl":521,"v":0.0094},{"wl":523,"v":0.009},{"wl":525,"v":0.0087},{"wl":527,"v":0.0083},{"wl":529,"v":0.008},{"wl":531,"v":0.0076},{"wl":533,"v":0.0072},{"wl":535,"v":0.0069},{"wl":537,"v":0.0066},{"wl":539,"v":0.0063},{"wl":541,"v":0.006},{"wl":543,"v":0.0057},{"wl":545,"v":0.0054},{"wl":547,"v":0.0051},{"wl":549,"v":0.0048},{"wl":551,"v":0.0045},{"wl":553,"v":0.0043},{"wl":555,"v":0.004},{"wl":557,"v":0.0037},{"wl":559,"v":0.0034},{"wl":561,"v":0.0036},{"wl":563,"v":0.0029},{"wl":565,"v":0.0026},{"wl":567,"v":0.0024},{"wl":569,"v":0.0022},{"wl":571,"v":0.002},{"wl":573,"v":0.0022},{"wl":575,"v":0.0016},{"wl":577,"v":0.0012},{"wl":579,"v":0.0013},{"wl":581,"v":0.0009},{"wl":584,"v":0.0011},{"wl":586,"v":0.0002},{"wl":588,"v":0.0007},{"wl":590,"v":0.0004},{"wl":593,"v":0.0009},{"wl":595,"v":-0.0003},{"wl":597,"v":0.0003},{"wl":600,"v":0.0007},{"wl":602,"v":0.0},{"wl":604,"v":0.0011},{"wl":606,"v":-0.0002},{"wl":609,"v":0.0004},{"wl":611,"v":0.001},{"wl":613,"v":0.0001},{"wl":615,"v":0.0006},{"wl":618,"v":-0.0004},{"wl":620,"v":0.0014},{"wl":622,"v":0.0003},{"wl":624,"v":0.0008},{"wl":627,"v":-0.0001},{"wl":629,"v":0.0005},{"wl":631,"v":0.0012},{"wl":633,"v":0.0002},{"wl":636,"v":0.0018},{"wl":638,"v":0.0006},{"wl":640,"v":-0.0003},{"wl":643,"v":0.0009},{"wl":645,"v":0.0004},{"wl":647,"v":0.0012},{"wl":650,"v":0.0001},{"wl":652,"v":0.0007},{"wl":654,"v":0.0016},{"wl":657,"v":0.0003},{"wl":659,"v":0.001},{"wl":661,"v":-0.0002},{"wl":664,"v":0.0006},{"wl":666,"v":0.0013},{"wl":668,"v":0.0004},{"wl":671,"v":0.001},{"wl":673,"v":0.0002},{"wl":675,"v":0.0015},{"wl":678,"v":0.0007},{"wl":680,"v":-0.0003},{"wl":682,"v":0.0011},{"wl":685,"v":0.0005},{"wl":687,"v":0.0012},{"wl":689,"v":-0.0006},{"wl":692,"v":0.0008},{"wl":694,"v":0.0003}],
"brb": [{"wl":321,"v":0.0243},{"wl":324,"v":0.0197},{"wl":326,"v":0.0189},{"wl":328,"v":0.0235},{"wl":330,"v":0.0222},{"wl":332,"v":0.0228},{"wl":334,"v":0.021},{"wl":336,"v":0.0218},{"wl":337,"v":0.0198},{"wl":339,"v":0.0215},{"wl":341,"v":0.0205},{"wl":343,"v":0.023},{"wl":344,"v":0.0213},{"wl":345,"v":0.022},{"wl":347,"v":0.0208},{"wl":350,"v":0.0213},{"wl":352,"v":0.021},{"wl":354,"v":0.0216},{"wl":356,"v":0.0205},{"wl":358,"v":0.0213},{"wl":361,"v":0.0208},{"wl":363,"v":0.0239},{"wl":365,"v":0.0222},{"wl":368,"v":0.0218},{"wl":370,"v":0.0212},{"wl":372,"v":0.0209},{"wl":373,"v":0.0199},{"wl":374,"v":0.0205},{"wl":376,"v":0.0228},{"wl":379,"v":0.0223},{"wl":381,"v":0.021},{"wl":383,"v":0.0204},{"wl":385,"v":0.0198},{"wl":387,"v":0.0195},{"wl":389,"v":0.02},{"wl":392,"v":0.0186},{"wl":394,"v":0.019},{"wl":395,"v":0.0167},{"wl":396,"v":0.018},{"wl":398,"v":0.0183},{"wl":401,"v":0.0171},{"wl":403,"v":0.0176},{"wl":405,"v":0.0165},{"wl":407,"v":0.0174},{"wl":409,"v":0.0178},{"wl":412,"v":0.0169},{"wl":414,"v":0.0158},{"wl":416,"v":0.0162},{"wl":418,"v":0.0152},{"wl":421,"v":0.0155},{"wl":423,"v":0.0167},{"wl":424,"v":0.0144},{"wl":426,"v":0.014},{"wl":429,"v":0.0146},{"wl":431,"v":0.0135},{"wl":434,"v":0.013},{"wl":436,"v":0.0124},{"wl":439,"v":0.0128},{"wl":441,"v":0.012},{"wl":443,"v":0.0114},{"wl":446,"v":0.0118},{"wl":448,"v":0.011},{"wl":451,"v":0.0105},{"wl":453,"v":0.0101},{"wl":456,"v":0.0098},{"wl":458,"v":0.0092},{"wl":460,"v":0.0096},{"wl":463,"v":0.0089},{"wl":465,"v":0.0091},{"wl":468,"v":0.0085},{"wl":470,"v":0.0082},{"wl":473,"v":0.0086},{"wl":475,"v":0.008},{"wl":478,"v":0.0075},{"wl":481,"v":0.0078},{"wl":483,"v":0.0072},{"wl":486,"v":0.0074},{"wl":489,"v":0.0049},{"wl":491,"v":0.007},{"wl":494,"v":0.0066},{"wl":496,"v":0.0068},{"wl":499,"v":0.0061},{"wl":502,"v":0.0064},{"wl":505,"v":0.006},{"wl":507,"v":0.0087},{"wl":509,"v":0.0056},{"wl":511,"v":0.0058},{"wl":514,"v":0.0053},{"wl":516,"v":0.0055},{"wl":519,"v":0.0098},{"wl":521,"v":0.005},{"wl":524,"v":0.0052},{"wl":526,"v":0.0047},{"wl":529,"v":0.0049},{"wl":531,"v":0.0045},{"wl":533,"v":0.0044},{"wl":536,"v":0.004},{"wl":538,"v":0.0042},{"wl":541,"v":0.0036},{"wl":543,"v":0.003},{"wl":546,"v":0.0034},{"wl":548,"v":0.0021},{"wl":550,"v":0.0028},{"wl":553,"v":0.0031},{"wl":555,"v":0.0026},{"wl":558,"v":0.0033},{"wl":560,"v":0.0029},{"wl":563,"v":0.0022},{"wl":565,"v":0.0027},{"wl":568,"v":0.0024},{"wl":570,"v":0.003},{"wl":573,"v":0.0049},{"wl":575,"v":0.0018},{"wl":577,"v":0.0002},{"wl":580,"v":0.0021},{"wl":582,"v":0.003},{"wl":585,"v":0.0036},{"wl":587,"v":0.004},{"wl":590,"v":0.0025},{"wl":592,"v":0.0056},{"wl":595,"v":0.0018},{"wl":597,"v":0.0014},{"wl":600,"v":0.002},{"wl":602,"v":0.0016},{"wl":605,"v":0.001},{"wl":607,"v":0.0012},{"wl":610,"v":0.0024},{"wl":612,"v":0.0033},{"wl":614,"v":0.0061},{"wl":615,"v":0.0049},{"wl":617,"v":0.003},{"wl":619,"v":0.0022},{"wl":622,"v":0.0008},{"wl":624,"v":0.0012},{"wl":626,"v":0.0005},{"wl":629,"v":-0.0005},{"wl":631,"v":0.001},{"wl":634,"v":0.0015},{"wl":636,"v":0.0006},{"wl":638,"v":0.0002},{"wl":641,"v":0.001},{"wl":643,"v":-0.0002},{"wl":646,"v":0.0005},{"wl":648,"v":0.0012},{"wl":651,"v":0.0018},{"wl":653,"v":0.0022},{"wl":655,"v":0.0028},{"wl":656,"v":0.0008},{"wl":658,"v":0.0002},{"wl":661,"v":-0.0004},{"wl":663,"v":-0.001},{"wl":666,"v":0.0002},{"wl":668,"v":-0.0006},{"wl":671,"v":-0.0014},{"wl":673,"v":-0.001},{"wl":675,"v":-0.002},{"wl":677,"v":-0.0025},{"wl":680,"v":-0.0064},{"wl":682,"v":-0.0071},{"wl":684,"v":-0.0018},{"wl":686,"v":-0.003},{"wl":688,"v":-0.0012},{"wl":690,"v":0.0002}],
"brd": [{"wl":321,"v":0.0337},{"wl":323,"v":0.0305},{"wl":323.5,"v":0.0291},{"wl":325,"v":0.033},{"wl":327,"v":0.0326},{"wl":329,"v":0.0312},{"wl":332,"v":0.0332},{"wl":332.5,"v":0.0321},{"wl":334,"v":0.0315},{"wl":336,"v":0.0307},{"wl":338,"v":0.0318},{"wl":340,"v":0.0322},{"wl":343,"v":0.0319},{"wl":343.5,"v":0.031},{"wl":345,"v":0.03},{"wl":347,"v":0.0296},{"wl":349,"v":0.0305},{"wl":351,"v":0.03},{"wl":354,"v":0.0279},{"wl":356,"v":0.029},{"wl":358,"v":0.0303},{"wl":360,"v":0.0298},{"wl":361,"v":0.0296},{"wl":363,"v":0.0288},{"wl":365,"v":0.0286},{"wl":367,"v":0.028},{"wl":369,"v":0.0277},{"wl":369.5,"v":0.0265},{"wl":371,"v":0.027},{"wl":374,"v":0.0272},{"wl":376,"v":0.0274},{"wl":378,"v":0.0268},{"wl":381,"v":0.0262},{"wl":383,"v":0.0267},{"wl":383.5,"v":0.0253},{"wl":385,"v":0.0248},{"wl":387,"v":0.0237},{"wl":389,"v":0.0245},{"wl":390,"v":0.0263},{"wl":392,"v":0.0242},{"wl":394,"v":0.0228},{"wl":396,"v":0.0237},{"wl":398,"v":0.0226},{"wl":399,"v":0.022},{"wl":401,"v":0.0218},{"wl":403,"v":0.0214},{"wl":405,"v":0.021},{"wl":407,"v":0.0212},{"wl":409,"v":0.0206},{"wl":411,"v":0.02},{"wl":413,"v":0.0204},{"wl":416,"v":0.0204},{"wl":416.5,"v":0.0188},{"wl":418,"v":0.0182},{"wl":420,"v":0.0178},{"wl":421,"v":0.0185},{"wl":423,"v":0.0199},{"wl":425,"v":0.0172},{"wl":427,"v":0.0159},{"wl":429,"v":0.0165},{"wl":431,"v":0.0147},{"wl":432,"v":0.0152},{"wl":434,"v":0.0157},{"wl":436,"v":0.0141},{"wl":438,"v":0.015},{"wl":440,"v":0.0135},{"wl":442,"v":0.0138},{"wl":445,"v":0.0129},{"wl":447,"v":0.0124},{"wl":449,"v":0.0118},{"wl":451,"v":0.0121},{"wl":453,"v":0.0117},{"wl":454,"v":0.011},{"wl":456,"v":0.0108},{"wl":458,"v":0.0112},{"wl":460,"v":0.0089},{"wl":462,"v":0.01},{"wl":464,"v":0.0106},{"wl":467,"v":0.0117},{"wl":469,"v":0.0105},{"wl":471,"v":0.0094},{"wl":473,"v":0.009},{"wl":475,"v":0.0098},{"wl":476,"v":0.0086},{"wl":478,"v":0.0082},{"wl":480,"v":0.0084},{"wl":482,"v":0.0077},{"wl":484,"v":0.008},{"wl":486,"v":0.0083},{"wl":487,"v":0.0074},{"wl":489,"v":0.0077},{"wl":491,"v":0.0079},{"wl":493,"v":0.0082},{"wl":495,"v":0.0073},{"wl":497,"v":0.0073},{"wl":499,"v":0.007},{"wl":501,"v":0.0078},{"wl":504,"v":0.0082},{"wl":506,"v":0.0075},{"wl":508,"v":0.0071},{"wl":511,"v":0.0068},{"wl":513,"v":0.0073},{"wl":515,"v":0.0078},{"wl":517,"v":0.0082},{"wl":519,"v":0.0094},{"wl":520,"v":0.008},{"wl":522,"v":0.0077},{"wl":524,"v":0.0074},{"wl":526,"v":0.0073},{"wl":528,"v":0.0066},{"wl":530,"v":0.007},{"wl":532,"v":0.0054},{"wl":533,"v":0.007},{"wl":535,"v":0.0064},{"wl":537,"v":0.0061},{"wl":540,"v":0.0052},{"wl":542,"v":0.0058},{"wl":544,"v":0.0046},{"wl":546,"v":0.004},{"wl":548,"v":0.0037},{"wl":548.5,"v":0.0026},{"wl":550,"v":0.0031},{"wl":553,"v":0.0039},{"wl":555,"v":0.0042},{"wl":557,"v":0.0049},{"wl":559,"v":0.0056},{"wl":561,"v":0.0038},{"wl":563,"v":0.0033},{"wl":565,"v":0.0029},{"wl":566,"v":0.0026},{"wl":568,"v":0.0031},{"wl":570,"v":0.0025},{"wl":572,"v":0.0028},{"wl":574,"v":0.0028},{"wl":576,"v":0.002},{"wl":577,"v":0.0016},{"wl":579,"v":0.003},{"wl":581,"v":0.0037},{"wl":583,"v":0.0033},{"wl":585,"v":0.0033},{"wl":586,"v":0.0036},{"wl":588,"v":0.004},{"wl":590,"v":0.0044},{"wl":592,"v":0.0044},{"wl":592.5,"v":0.0023},{"wl":594,"v":0.0018},{"wl":596,"v":0.0014},{"wl":599,"v":0.0009},{"wl":601,"v":0.0004},{"wl":603,"v":-0.0005},{"wl":605,"v":0.0006},{"wl":607,"v":0.0009},{"wl":609,"v":0.0018},{"wl":610,"v":0.0042},{"wl":612,"v":0.0068},{"wl":614,"v":0.0037},{"wl":616,"v":0.0034},{"wl":618,"v":0.003},{"wl":620,"v":0.0018},{"wl":621,"v":0.0007},{"wl":623,"v":0.0012},{"wl":625,"v":0.0006},{"wl":627,"v":0.0004},{"wl":629,"v":0.0002},{"wl":630,"v":0.0016},{"wl":632,"v":0.003},{"wl":634,"v":0.0038},{"wl":636,"v":0.0044},{"wl":638,"v":0.0034},{"wl":640,"v":0.0026},{"wl":642,"v":0.0012},{"wl":643,"v":0.0002},{"wl":645,"v":-0.0006},{"wl":647,"v":-0.0019},{"wl":649,"v":0.0004},{"wl":651,"v":0.0012},{"wl":653,"v":0.0018},{"wl":654,"v":0.0021},{"wl":656,"v":0.001},{"wl":658,"v":0.0002},{"wl":660,"v":-0.0004},{"wl":662,"v":-0.0012},{"wl":664,"v":-0.002},{"wl":666,"v":-0.0026},{"wl":668,"v":-0.0008},{"wl":669,"v":0.0012},{"wl":671,"v":0.0004},{"wl":673,"v":-0.0007},{"wl":675,"v":-0.0016},{"wl":677,"v":-0.0033},{"wl":679,"v":-0.0038},{"wl":680,"v":-0.0042},{"wl":682,"v":-0.0028},{"wl":684,"v":-0.0019},{"wl":686,"v":-0.0012},{"wl":688,"v":-0.0005},{"wl":690,"v":-0.0015},{"wl":691,"v":-0.0024}],
"bri": [{"wl":331,"v":0.0103},{"wl":334,"v":0.0088},{"wl":336,"v":0.0099},{"wl":337,"v":0.0083},{"wl":339,"v":0.0107},{"wl":340,"v":0.0094},{"wl":342,"v":0.009},{"wl":344,"v":0.0092},{"wl":345,"v":0.0084},{"wl":347,"v":0.0089},{"wl":349,"v":0.0078},{"wl":351,"v":0.0096},{"wl":352,"v":0.0082},{"wl":354,"v":0.0074},{"wl":356,"v":0.0081},{"wl":358,"v":0.0089},{"wl":359,"v":0.0068},{"wl":360,"v":0.0083},{"wl":362,"v":0.007},{"wl":364,"v":0.0063},{"wl":366,"v":0.0076},{"wl":367,"v":0.0066},{"wl":369,"v":0.0062},{"wl":371,"v":0.0058},{"wl":373,"v":0.0064},{"wl":375,"v":0.0054},{"wl":377,"v":0.0075},{"wl":378,"v":0.0056},{"wl":380,"v":0.0057},{"wl":382,"v":0.005},{"wl":384,"v":0.0053},{"wl":386,"v":0.0046},{"wl":388,"v":0.005},{"wl":390,"v":0.0044},{"wl":392,"v":0.0047},{"wl":394,"v":0.0041},{"wl":395,"v":0.0047},{"wl":397,"v":0.0038},{"wl":399,"v":0.0043},{"wl":401,"v":0.0036},{"wl":403,"v":0.0041},{"wl":405,"v":0.0033},{"wl":407,"v":0.0037},{"wl":409,"v":0.003},{"wl":411,"v":0.0034},{"wl":413,"v":0.0027},{"wl":415,"v":0.0031},{"wl":417,"v":0.0024},{"wl":419,"v":0.0029},{"wl":421,"v":0.002},{"wl":423,"v":0.0025},{"wl":425,"v":0.0017},{"wl":427,"v":0.0022},{"wl":429,"v":0.0014},{"wl":432,"v":0.0018},{"wl":434,"v":0.0011},{"wl":436,"v":0.0015},{"wl":438,"v":0.0008},{"wl":440,"v":0.0012},{"wl":442,"v":0.0004},{"wl":444,"v":0.0009},{"wl":446,"v":0.0001},{"wl":448,"v":0.0006},{"wl":450,"v":-0.0002},{"wl":452,"v":0.0005},{"wl":454,"v":-0.0004},{"wl":456,"v":0.0003},{"wl":458,"v":0.0008},{"wl":461,"v":-0.0005},{"wl":463,"v":0.0002},{"wl":465,"v":-0.0001},{"wl":467,"v":0.0006},{"wl":469,"v":0.0011},{"wl":471,"v":0.0004},{"wl":473,"v":-0.0003},{"wl":476,"v":0.0015},{"wl":478,"v":0.0003},{"wl":480,"v":0.0008},{"wl":482,"v":-0.0002},{"wl":484,"v":0.0005},{"wl":486,"v":0.0012},{"wl":488,"v":0.0002},{"wl":490,"v":0.0025},{"wl":492,"v":0.0006},{"wl":494,"v":-0.0002},{"wl":496,"v":0.001},{"wl":498,"v":0.0009},{"wl":500,"v":0.0003},{"wl":502,"v":-0.0004},{"wl":504,"v":0.0007},{"wl":506,"v":0.0001},{"wl":509,"v":0.001},{"wl":511,"v":-0.0003},{"wl":513,"v":-0.0001},{"wl":515,"v":0.0006},{"wl":517,"v":0.0014},{"wl":519,"v":0.0002},{"wl":521,"v":-0.0004},{"wl":523,"v":0.0008},{"wl":525,"v":0.0003},{"wl":527,"v":0.0005},{"wl":529,"v":0.0012},{"wl":531,"v":-0.0002},{"wl":533,"v":0.0009},{"wl":536,"v":0.0004},{"wl":538,"v":0.0015},{"wl":540,"v":0.0007},{"wl":542,"v":0.0021},{"wl":544,"v":0.001},{"wl":546,"v":0.0002},{"wl":549,"v":0.0005},{"wl":551,"v":-0.0004},{"wl":553,"v":0.0009},{"wl":556,"v":-0.0008},{"wl":558,"v":0.0003},{"wl":560,"v":-0.0005},{"wl":562,"v":0.0006},{"wl":565,"v":-0.0002},{"wl":567,"v":-0.0011},{"wl":569,"v":0.0001},{"wl":571,"v":-0.0014},{"wl":573,"v":-0.0006},{"wl":575,"v":0.0004},{"wl":578,"v":0.0015},{"wl":580,"v":-0.0003},{"wl":582,"v":0.0007},{"wl":584,"v":-0.0009},{"wl":586,"v":0.0002},{"wl":589,"v":-0.0005},{"wl":591,"v":0.0008},{"wl":593,"v":-0.0011},{"wl":595,"v":-0.0003},{"wl":597,"v":0.0004},{"wl":600,"v":-0.0001},{"wl":602,"v":-0.0008},{"wl":604,"v":0.0003},{"wl":606,"v":-0.0012},{"wl":609,"v":-0.0004},{"wl":611,"v":0.0002},{"wl":613,"v":-0.0009},{"wl":615,"v":-0.0002},{"wl":617,"v":-0.0016},{"wl":619,"v":-0.0027},{"wl":620,"v":-0.0022},{"wl":622,"v":-0.0006},{"wl":624,"v":0.0001},{"wl":626,"v":-0.001},{"wl":628,"v":-0.0004},{"wl":630,"v":-0.0008},{"wl":632,"v":0.0006},{"wl":634,"v":-0.0002},{"wl":637,"v":0.0025},{"wl":639,"v":0.0008},{"wl":641,"v":-0.0005},{"wl":643,"v":0.0013},{"wl":644,"v":-0.0014},{"wl":646,"v":0.0004},{"wl":648,"v":0.001},{"wl":650,"v":-0.0003},{"wl":652,"v":0.0012},{"wl":654,"v":0.0006},{"wl":656,"v":0.0018},{"wl":658,"v":0.0005},{"wl":660,"v":0.0014},{"wl":662,"v":0.0009},{"wl":664,"v":0.002},{"wl":666,"v":0.0011},{"wl":668,"v":0.0016},{"wl":671,"v":0.0022},{"wl":673,"v":0.0025},{"wl":675,"v":0.0014},{"wl":677,"v":0.003},{"wl":679,"v":0.0019},{"wl":681,"v":0.0034}]
},
"title": {"text": "Absorbance", "orient": "left", "anchor": "middle", "fontSize": 28, "offset": 14, "dx": 34},
"vconcat": [{
  "title": {"text": "Wavelength (nm)", "orient": "bottom", "anchor": "middle", "fontSize": 26, "offset": 9, "dx": 38},
  "spacing": 32,
  "vconcat": [
   {"spacing": 28, "hconcat": [
    {"width": 350, "height": 710, "view": {"stroke": "black", "strokeWidth": 4},
     "resolve": {"scale": {"x": "independent", "y": "independent"}, "axis": {"x": "independent", "y": "independent"}},
     "layer": [
      {"layer": [
        {"data": {"name": "tlb"}, "mark": {"type": "point", "filled": false, "size": 100, "stroke": "#444", "strokeWidth": 1.2, "opacity": 1, "clip": true},
         "encoding": {"x": {"field": "wl", "type": "quantitative", "scale": {"domain": [314, 698], "nice": false, "zero": false}, "axis": {"title": null, "values": [350,400,450,500,550,600,650], "labelFontSize": 19.5, "tickSize": -5, "tickWidth": 2.5, "labelPadding": 14, "labelFlush": false, "labelOverlap": false}},
                      "y": {"field": "v", "type": "quantitative", "scale": {"domain": [-0.01, 0.04], "nice": false, "zero": false}, "axis": {"title": null, "values": [-0.01,0,0.01,0.02,0.03,0.04], "format": ".2f", "labelExpr": "replace(datum.label, '\u2212', '-')", "labelFontSize": 19.5, "tickSize": -5, "tickWidth": 2.5, "labelPadding": 20, "labelOverlap": false}}}},
        {"data": {"name": "tld"}, "mark": {"type": "circle", "size": 120, "color": "black", "opacity": 1, "clip": true},
         "encoding": {"x": {"field": "wl", "type": "quantitative"}, "y": {"field": "v", "type": "quantitative"}}},
        {"data": {"values": [{}]}, "mark": {"type": "text", "text": "Bleached", "fontSize": 24, "align": "left"}, "encoding": {"x": {"datum": 328, "type": "quantitative"}, "y": {"datum": 0.0385, "type": "quantitative"}}},
        {"data": {"values": [{}]}, "mark": {"type": "text", "text": "Dark", "fontSize": 24, "align": "left"}, "encoding": {"x": {"datum": 328, "type": "quantitative"}, "y": {"datum": 0.0152, "type": "quantitative"}}},
        {"data": {"values": [{}]}, "mark": {"type": "text", "text": "opn4m2", "fontSize": 33, "align": "center"}, "encoding": {"x": {"datum": 432, "type": "quantitative"}, "y": {"datum": -0.0056, "type": "quantitative"}}},
        {"data": {"values": [{}]}, "mark": {"type": "text", "text": "11-", "fontSize": 33, "align": "left"}, "encoding": {"x": {"datum": 330, "type": "quantitative"}, "y": {"datum": -0.0082, "type": "quantitative"}}},
        {"data": {"values": [{}]}, "mark": {"type": "text", "text": "cis", "fontSize": 33, "fontStyle": "italic", "align": "left", "dx": 48}, "encoding": {"x": {"datum": 330, "type": "quantitative"}, "y": {"datum": -0.0082, "type": "quantitative"}}},
        {"data": {"values": [{}]}, "mark": {"type": "text", "text": "retinal", "fontSize": 33, "align": "left", "dx": 97}, "encoding": {"x": {"datum": 330, "type": "quantitative"}, "y": {"datum": -0.0082, "type": "quantitative"}}},
        {"data": {"values": [{}]}, "mark": {"type": "text", "text": "\u03bb", "fontSize": 25, "align": "left"}, "encoding": {"x": {"datum": 526, "type": "quantitative"}, "y": {"datum": 0.0377, "type": "quantitative"}}},
        {"data": {"values": [{}]}, "mark": {"type": "text", "text": "max", "fontSize": 14, "align": "left", "dx": 12, "dy": 9}, "encoding": {"x": {"datum": 526, "type": "quantitative"}, "y": {"datum": 0.0377, "type": "quantitative"}}},
        {"data": {"values": [{}]}, "mark": {"type": "text", "text": "= 484 nm", "fontSize": 25, "align": "left", "dx": 44}, "encoding": {"x": {"datum": 526, "type": "quantitative"}, "y": {"datum": 0.0377, "type": "quantitative"}}}
      ]},
      {"layer": [
        {"data": {"name": "tlf"}, "mark": {"type": "line", "color": "#e31a1c", "strokeWidth": 5.5, "interpolate": "monotone"},
         "encoding": {"x": {"field": "wl", "type": "quantitative", "scale": {"domain": [325, 694], "range": [183, 350], "nice": false, "zero": false}, "axis": {"title": null, "orient": "bottom", "offset": -345, "values": [350,400,450,500,550,600,650], "labelFontSize": 13, "labelFontWeight": "bold", "tickSize": -4, "tickWidth": 1.5, "labelPadding": 10, "domain": true, "domainWidth": 2.5, "domainColor": "black", "labelOverlap": false, "labelFlush": false}},
                      "y": {"field": "v", "type": "quantitative", "scale": {"domain": [-0.005, 0.0114], "range": [365, 0], "nice": false, "zero": false}, "axis": {"title": null, "orient": "left", "offset": -183, "values": [-0.005,-0.001,0.003,0.007], "format": ".3f", "labelExpr": "replace(datum.label, '\u2212', '-')", "labelFontSize": 12, "labelFontWeight": "bold", "tickSize": 5, "tickWidth": 1.5, "labelPadding": 7, "domain": true, "domainWidth": 2.5, "domainColor": "black", "labelOverlap": false}}}},
        {"data": {"name": "tli"}, "mark": {"type": "point", "filled": false, "size": 26, "stroke": "#333", "strokeWidth": 0.9, "opacity": 1},
         "encoding": {"x": {"field": "wl", "type": "quantitative"}, "y": {"field": "v", "type": "quantitative"}}}
      ]}
     ]},
    {"width": 345, "height": 710,
     "resolve": {"scale": {"x": "independent", "y": "independent"}, "axis": {"x": "independent", "y": "independent"}},
     "layer": [
      {"layer": [
        {"data": {"name": "trb"}, "mark": {"type": "point", "filled": false, "size": 100, "stroke": "#444", "strokeWidth": 1.2, "opacity": 1, "clip": true},
         "encoding": {"x": {"field": "wl", "type": "quantitative", "scale": {"domain": [314, 692.5], "nice": false, "zero": false}, "axis": {"title": null, "values": [350,400,450,500,550,600,650], "labelFontSize": 19.5, "tickSize": -7, "tickWidth": 2.5, "labelPadding": 16, "labelFlush": false, "labelOverlap": false}},
                      "y": {"field": "v", "type": "quantitative", "scale": {"domain": [-0.01, 0.04], "nice": false, "zero": false}, "axis": {"title": null, "values": [-0.01,0,0.01,0.02,0.03,0.04], "format": ".2f", "labelExpr": "replace(datum.label, '\u2212', '-')", "labelFontSize": 19.5, "tickSize": -7, "tickWidth": 2.5, "labelPadding": 19, "labelOverlap": false}}}},
        {"data": {"name": "trd"}, "mark": {"type": "circle", "size": 120, "color": "black", "opacity": 1, "clip": true},
         "encoding": {"x": {"field": "wl", "type": "quantitative"}, "y": {"field": "v", "type": "quantitative"}}},
        {"data": {"values": [{}]}, "mark": {"type": "rect", "fillOpacity": 0, "stroke": "black", "strokeWidth": 8, "clip": true}, "encoding": {"x": {"datum": 314, "type": "quantitative"}, "x2": {"datum": 760}, "y": {"datum": -0.01, "type": "quantitative"}, "y2": {"datum": 0.04}}},
        {"data": {"values": [{}]}, "mark": {"type": "text", "text": "Dark", "fontSize": 24, "align": "left"}, "encoding": {"x": {"datum": 356, "type": "quantitative"}, "y": {"datum": 0.0102, "type": "quantitative"}}},
        {"data": {"values": [{}]}, "mark": {"type": "text", "text": "Bleached", "fontSize": 24, "align": "left"}, "encoding": {"x": {"datum": 550, "type": "quantitative"}, "y": {"datum": 0.0102, "type": "quantitative"}}},
        {"data": {"values": [{}]}, "mark": {"type": "text", "text": "opn4m2", "fontSize": 33, "align": "center"}, "encoding": {"x": {"datum": 448, "type": "quantitative"}, "y": {"datum": -0.0056, "type": "quantitative"}}},
        {"data": {"values": [{}]}, "mark": {"type": "text", "text": "all-", "fontSize": 33, "align": "left"}, "encoding": {"x": {"datum": 328, "type": "quantitative"}, "y": {"datum": -0.0084, "type": "quantitative"}}},
        {"data": {"values": [{}]}, "mark": {"type": "text", "text": "trans", "fontSize": 33, "fontStyle": "italic", "align": "left", "dx": 44}, "encoding": {"x": {"datum": 328, "type": "quantitative"}, "y": {"datum": -0.0084, "type": "quantitative"}}},
        {"data": {"values": [{}]}, "mark": {"type": "text", "text": "retinal", "fontSize": 33, "align": "left", "dx": 127}, "encoding": {"x": {"datum": 328, "type": "quantitative"}, "y": {"datum": -0.0084, "type": "quantitative"}}}
      ]},
      {"layer": [
        {"data": {"name": "tri"}, "mark": {"type": "point", "filled": false, "size": 26, "stroke": "#333", "strokeWidth": 0.9, "opacity": 1, "clip": true},
         "encoding": {"x": {"field": "wl", "type": "quantitative", "scale": {"domain": [325, 683], "range": [182, 345], "nice": false, "zero": false}, "axis": {"title": null, "orient": "bottom", "offset": -347, "values": [350,400,450,500,550,600,650], "labelFontSize": 13, "labelFontWeight": "bold", "tickSize": -4, "tickWidth": 1.5, "labelPadding": 10, "domain": true, "domainWidth": 2.5, "domainColor": "black", "labelOverlap": false, "labelFlush": false}},
                      "y": {"field": "v", "type": "quantitative", "scale": {"domain": [-0.0076, 0.0087], "range": [363, 0], "nice": false, "zero": false}, "axis": {"title": null, "orient": "left", "offset": -182, "values": [-0.005,-0.001,0.003,0.007], "format": ".3f", "labelExpr": "replace(datum.label, '\u2212', '-')", "labelFontSize": 12, "labelFontWeight": "bold", "tickSize": 5, "tickWidth": 1.5, "labelPadding": 7, "domain": true, "domainWidth": 2.5, "domainColor": "black", "labelOverlap": false}}}}
      ]}
     ]}
   ]},
   {"spacing": 28, "hconcat": [
    {"width": 350, "height": 710, "view": {"stroke": "black", "strokeWidth": 4},
     "resolve": {"scale": {"x": "independent", "y": "independent"}, "axis": {"x": "independent", "y": "independent"}},
     "layer": [
      {"layer": [
        {"data": {"name": "blb"}, "mark": {"type": "point", "filled": false, "size": 100, "stroke": "#444", "strokeWidth": 1.2, "opacity": 1, "clip": true},
         "encoding": {"x": {"field": "wl", "type": "quantitative", "scale": {"domain": [314, 698], "nice": false, "zero": false}, "axis": {"title": null, "values": [350,400,450,500,550,600,650], "labelFontSize": 19.5, "tickSize": -5, "tickWidth": 2.5, "labelPadding": 14, "labelFlush": false, "labelOverlap": false}},
                      "y": {"field": "v", "type": "quantitative", "scale": {"domain": [-0.01, 0.04], "nice": false, "zero": false}, "axis": {"title": null, "values": [-0.01,0,0.01,0.02,0.03,0.04], "format": ".2f", "labelExpr": "replace(datum.label, '\u2212', '-')", "labelFontSize": 19.5, "tickSize": -5, "tickWidth": 2.5, "labelPadding": 20, "labelOverlap": false}}}},
        {"data": {"name": "bld"}, "mark": {"type": "circle", "size": 120, "color": "black", "opacity": 1, "clip": true},
         "encoding": {"x": {"field": "wl", "type": "quantitative"}, "y": {"field": "v", "type": "quantitative"}}},
        {"data": {"values": [{}]}, "mark": {"type": "text", "text": "Bleached", "fontSize": 24, "align": "left"}, "encoding": {"x": {"datum": 328, "type": "quantitative"}, "y": {"datum": 0.0351, "type": "quantitative"}}},
        {"data": {"values": [{}]}, "mark": {"type": "text", "text": "Dark", "fontSize": 24, "align": "left"}, "encoding": {"x": {"datum": 526, "type": "quantitative"}, "y": {"datum": 0.0081, "type": "quantitative"}}},
        {"data": {"values": [{}]}, "mark": {"type": "text", "text": "opn4x1", "fontSize": 33, "align": "center"}, "encoding": {"x": {"datum": 427, "type": "quantitative"}, "y": {"datum": -0.0058, "type": "quantitative"}}},
        {"data": {"values": [{}]}, "mark": {"type": "text", "text": "11-", "fontSize": 33, "align": "left"}, "encoding": {"x": {"datum": 328, "type": "quantitative"}, "y": {"datum": -0.0083, "type": "quantitative"}}},
        {"data": {"values": [{}]}, "mark": {"type": "text", "text": "cis", "fontSize": 33, "fontStyle": "italic", "align": "left", "dx": 48}, "encoding": {"x": {"datum": 328, "type": "quantitative"}, "y": {"datum": -0.0083, "type": "quantitative"}}},
        {"data": {"values": [{}]}, "mark": {"type": "text", "text": "retinal", "fontSize": 33, "align": "left", "dx": 97}, "encoding": {"x": {"datum": 328, "type": "quantitative"}, "y": {"datum": -0.0083, "type": "quantitative"}}},
        {"data": {"values": [{}]}, "mark": {"type": "text", "text": "\u03bb", "fontSize": 25, "align": "left"}, "encoding": {"x": {"datum": 525, "type": "quantitative"}, "y": {"datum": 0.0377, "type": "quantitative"}}},
        {"data": {"values": [{}]}, "mark": {"type": "text", "text": "max", "fontSize": 14, "align": "left", "dx": 12, "dy": 9}, "encoding": {"x": {"datum": 525, "type": "quantitative"}, "y": {"datum": 0.0377, "type": "quantitative"}}},
        {"data": {"values": [{}]}, "mark": {"type": "text", "text": "= 470 nm", "fontSize": 25, "align": "left", "dx": 44}, "encoding": {"x": {"datum": 525, "type": "quantitative"}, "y": {"datum": 0.0377, "type": "quantitative"}}}
      ]},
      {"layer": [
        {"data": {"name": "blf"}, "mark": {"type": "line", "color": "#e31a1c", "strokeWidth": 5.5, "interpolate": "monotone"},
         "encoding": {"x": {"field": "wl", "type": "quantitative", "scale": {"domain": [325, 694], "range": [183, 350], "nice": false, "zero": false}, "axis": {"title": null, "orient": "bottom", "offset": -348, "values": [350,400,450,500,550,600,650], "labelFontSize": 13, "labelFontWeight": "bold", "tickSize": -4, "tickWidth": 1.5, "labelPadding": 10, "domain": true, "domainWidth": 2.5, "domainColor": "black", "labelOverlap": false, "labelFlush": false}},
                      "y": {"field": "v", "type": "quantitative", "scale": {"domain": [-0.0107, 0.0243], "range": [362, 0], "nice": false, "zero": false}, "axis": {"title": null, "orient": "left", "offset": -183, "values": [-0.006,-0.001,0.004,0.009,0.014,0.019], "format": ".3f", "labelExpr": "replace(datum.label, '\u2212', '-')", "labelFontSize": 12, "labelFontWeight": "bold", "tickSize": 5, "tickWidth": 1.5, "labelPadding": 7, "domain": true, "domainWidth": 2.5, "domainColor": "black", "labelOverlap": false}}}},
        {"data": {"name": "bli"}, "mark": {"type": "point", "filled": false, "size": 26, "stroke": "#333", "strokeWidth": 0.9, "opacity": 1},
         "encoding": {"x": {"field": "wl", "type": "quantitative"}, "y": {"field": "v", "type": "quantitative"}}}
      ]}
     ]},
    {"width": 345, "height": 710,
     "resolve": {"scale": {"x": "independent", "y": "independent"}, "axis": {"x": "independent", "y": "independent"}},
     "layer": [
      {"layer": [
        {"data": {"name": "brb"}, "mark": {"type": "point", "filled": false, "size": 100, "stroke": "#444", "strokeWidth": 1.2, "opacity": 1, "clip": true},
         "encoding": {"x": {"field": "wl", "type": "quantitative", "scale": {"domain": [314, 692.5], "nice": false, "zero": false}, "axis": {"title": null, "values": [350,400,450,500,550,600,650], "labelFontSize": 19.5, "tickSize": -7, "tickWidth": 2.5, "labelPadding": 16, "labelFlush": false, "labelOverlap": false}},
                      "y": {"field": "v", "type": "quantitative", "scale": {"domain": [-0.01, 0.04], "nice": false, "zero": false}, "axis": {"title": null, "values": [-0.01,0,0.01,0.02,0.03,0.04], "format": ".2f", "labelExpr": "replace(datum.label, '\u2212', '-')", "labelFontSize": 19.5, "tickSize": -7, "tickWidth": 2.5, "labelPadding": 19, "labelOverlap": false}}}},
        {"data": {"name": "brd"}, "mark": {"type": "circle", "size": 120, "color": "black", "opacity": 1, "clip": true},
         "encoding": {"x": {"field": "wl", "type": "quantitative"}, "y": {"field": "v", "type": "quantitative"}}},
        {"data": {"values": [{}]}, "mark": {"type": "rect", "fillOpacity": 0, "stroke": "black", "strokeWidth": 8, "clip": true}, "encoding": {"x": {"datum": 314, "type": "quantitative"}, "x2": {"datum": 760}, "y": {"datum": -0.01, "type": "quantitative"}, "y2": {"datum": 0.04}}},
        {"data": {"values": [{}]}, "mark": {"type": "text", "text": "Dark", "fontSize": 24, "align": "left"}, "encoding": {"x": {"datum": 371, "type": "quantitative"}, "y": {"datum": 0.0326, "type": "quantitative"}}},
        {"data": {"values": [{}]}, "mark": {"type": "text", "text": "Bleached", "fontSize": 24, "align": "left"}, "encoding": {"x": {"datum": 323, "type": "quantitative"}, "y": {"datum": 0.0087, "type": "quantitative"}}},
        {"data": {"values": [{}]}, "mark": {"type": "text", "text": "opn4x1", "fontSize": 33, "align": "center"}, "encoding": {"x": {"datum": 442, "type": "quantitative"}, "y": {"datum": -0.0054, "type": "quantitative"}}},
        {"data": {"values": [{}]}, "mark": {"type": "text", "text": "all-", "fontSize": 33, "align": "left"}, "encoding": {"x": {"datum": 324, "type": "quantitative"}, "y": {"datum": -0.008, "type": "quantitative"}}},
        {"data": {"values": [{}]}, "mark": {"type": "text", "text": "trans", "fontSize": 33, "fontStyle": "italic", "align": "left", "dx": 44}, "encoding": {"x": {"datum": 324, "type": "quantitative"}, "y": {"datum": -0.008, "type": "quantitative"}}},
        {"data": {"values": [{}]}, "mark": {"type": "text", "text": "retinal", "fontSize": 33, "align": "left", "dx": 127}, "encoding": {"x": {"datum": 324, "type": "quantitative"}, "y": {"datum": -0.008, "type": "quantitative"}}}
      ]},
      {"layer": [
        {"data": {"name": "bri"}, "mark": {"type": "point", "filled": false, "size": 26, "stroke": "#333", "strokeWidth": 0.9, "opacity": 1, "clip": true},
         "encoding": {"x": {"field": "wl", "type": "quantitative", "scale": {"domain": [325, 685], "range": [181, 345], "nice": false, "zero": false}, "axis": {"title": null, "orient": "bottom", "offset": -347, "values": [350,400,450,500,550,600,650], "labelFontSize": 13, "labelFontWeight": "bold", "tickSize": -4, "tickWidth": 1.5, "labelPadding": 10, "domain": true, "domainWidth": 2.5, "domainColor": "black", "labelOverlap": false, "labelFlush": false}},
                      "y": {"field": "v", "type": "quantitative", "scale": {"domain": [-0.0138, 0.0213], "range": [363, 0], "nice": false, "zero": false}, "axis": {"title": null, "orient": "left", "offset": -181, "values": [-0.011,-0.006,-0.001,0.004,0.009,0.014,0.019], "format": ".3f", "labelExpr": "replace(datum.label, '\u2212', '-')", "labelFontSize": 12, "labelFontWeight": "bold", "tickSize": 5, "tickWidth": 1.5, "labelPadding": 7, "domain": true, "domainWidth": 2.5, "domainColor": "black", "labelOverlap": false}}}}
      ]}
     ]}
   ]}
  ]
}]
}
